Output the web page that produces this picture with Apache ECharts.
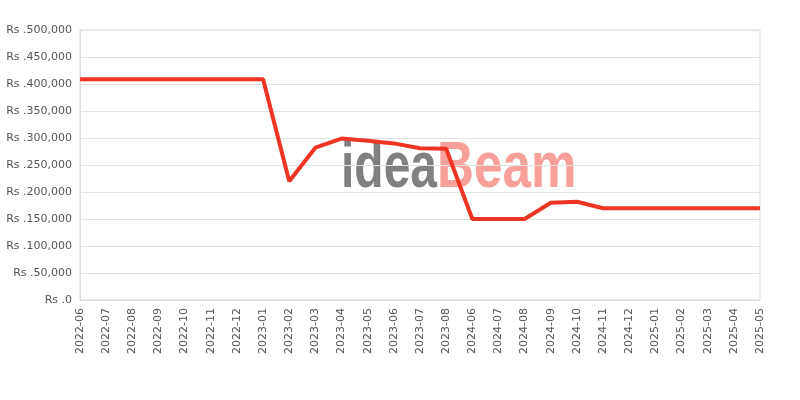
<!DOCTYPE html>
<html>
<head>
<meta charset="utf-8">
<script src="https://cdn.jsdelivr.net/npm/echarts@6/dist/echarts.min.js"></script>
<style>html,body{margin:0;padding:0;background:#fff}#c{width:800px;height:400px}</style>
</head>
<body>
<div id="c"></div>
<script>
var categories = ['2022-06','2022-07','2022-08','2022-09','2022-10','2022-11','2022-12','2023-01','2023-02','2023-03','2023-04','2023-05','2023-06','2023-07','2023-08','2024-06','2024-07','2024-08','2024-09','2024-10','2024-11','2024-12','2025-01','2025-02','2025-03','2025-04','2025-05'];
var prices = [409000,409000,409000,409000,409000,409000,409000,409000,220000,282000,299000,295000,290000,281000,280000,150000,150000,150000,180000,182000,170000,170000,170000,170000,170000,170000,170000];
var yTicks = [0,50000,100000,150000,200000,250000,300000,350000,400000,450000,500000];

function fmt(v){ return 'Rs .' + String(v).replace(/\B(?=(\d{3})+(?!\d))/g, ','); }

var chart = echarts.init(document.getElementById('c'));
chart.setOption({
  animation: false,
  grid: { left: 80, right: 40, top: 30, bottom: 100, show: true, borderColor: '#ddd', borderWidth: 1 },
  graphic: [
    { type: 'text', z: 0, x: 341, y: 137, scaleX: 0.75, style: { x: 0, y: 0, text: 'idea', font: 'bold 64px "Liberation Sans", sans-serif', fill: '#808080' } },
    { type: 'text', z: 0, x: 437, y: 137, scaleX: 0.8, style: { x: 0, y: 0, text: 'Beam', font: 'bold 64px "Liberation Sans", sans-serif', fill: '#f8a09a' } }
  ],
  xAxis: {
    type: 'category', data: categories, boundaryGap: false,
    axisLine: { lineStyle: { color: '#ddd' } },
    axisTick: { show: false },
    axisLabel: { rotate: 90, color: '#555', fontSize: 11, fontFamily: 'DejaVu Sans', margin: 8, interval: 0 }
  },
  yAxis: {
    type: 'value', min: yTicks[0], max: yTicks[yTicks.length-1], interval: 50000,
    axisLine: { show: true, lineStyle: { color: '#ddd' } },
    axisTick: { show: false },
    splitLine: { lineStyle: { color: '#e2e2e2' } },
    axisLabel: { color: '#555', fontSize: 11, fontFamily: 'DejaVu Sans', margin: 8, formatter: fmt }
  },
  series: [{
    type: 'line', data: prices, smooth: false, symbol: 'none', z: 5,
    lineStyle: { color: '#ee3524', width: 4 }
  }]
});
</script>
</body>
</html>
